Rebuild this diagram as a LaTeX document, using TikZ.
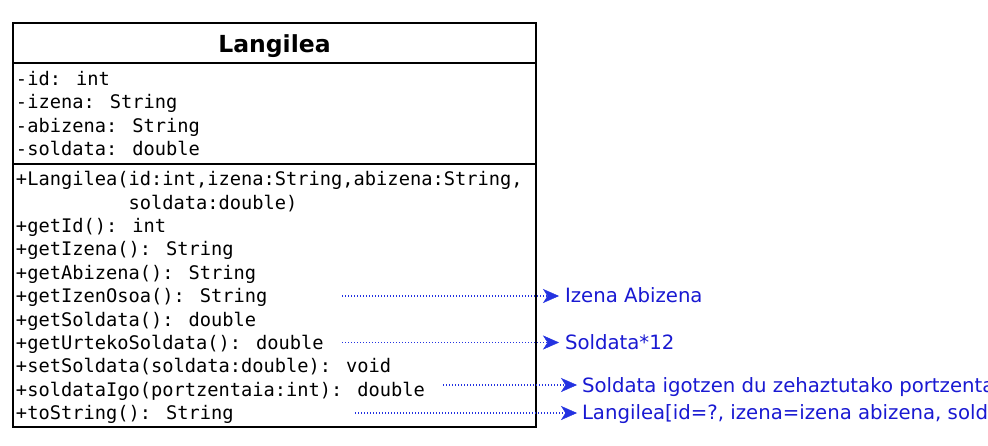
\documentclass[tikz,border=0pt]{standalone}
\usepackage{fontspec}
\setmainfont{DejaVu Sans}
\newfontfamily\monof{DejaVu Sans Mono}
\usetikzlibrary{arrows.meta}
\definecolor{arrowblue}{RGB}{35,50,225}
\definecolor{textblue}{RGB}{25,25,210}
\begin{document}
\begin{tikzpicture}[x=1pt,y=-1pt,
  part/.style={draw=black, line width=2pt, minimum width=523pt, inner sep=0pt, outer sep=0pt},
  titletext/.style={anchor=base, inner sep=0pt, font=\fontsize{23.5}{27}\selectfont\bfseries},
  mono/.style={anchor=base west, inner sep=0pt, outer sep=0pt, font=\monof\fontsize{18.7}{23.4}\selectfont},
  note/.style={anchor=base west, inner sep=0pt, outer sep=0pt, text=textblue, font=\fontsize{19.7}{22}\selectfont},
  conn/.style={draw=arrowblue, line width=1.4pt, dash pattern=on 1.3pt off 1.7pt, -{Stealth[length=16pt,width=14pt,inset=4.5pt,color=arrowblue,fill=arrowblue,line width=0.4pt]}}
]
\clip (0,0) rectangle (988,445);
\fill[white] (0,0) rectangle (988,445);
% class box
\node[part, minimum height=40pt] (title) at (274.5,43) {};
\node[part, minimum height=101pt] (attrs) at (274.5,113.5) {};
\node[part, minimum height=263pt] (meths) at (274.5,295.5) {};
\node[titletext] (tt) at (274.5,52) {Langilea};
% attributes
\node[mono] (a1) at (16,85.3) {-id: int};
\node[mono] (a2) at (16,108.8) {-izena: String};
\node[mono] (a3) at (16,132.3) {-abizena: String};
\node[mono] (a4) at (16,155.8) {-soldata: double};
% methods
\node[mono] (m1) at (16,185.6) {+Langilea(id:int,izena:String,abizena:String,};
\node[mono] (m2) at (16,209.0) {\phantom{+Langilea(}soldata:double)};
\node[mono] (m3) at (16,232.4) {+getId(): int};
\node[mono] (m4) at (16,255.8) {+getIzena(): String};
\node[mono] (m5) at (16,279.2) {+getAbizena(): String};
\node[mono] (m6) at (16,302.6) {+getIzenOsoa(): String};
\node[mono] (m7) at (16,326.0) {+getSoldata(): double};
\node[mono] (m8) at (16,349.4) {+getUrtekoSoldata(): double};
\node[mono] (m9) at (16,372.8) {+setSoldata(soldata:double): void};
\node[mono] (m10) at (16,396.2) {+soldataIgo(portzentaia:int): double};
\node[mono] (m11) at (16,419.6) {+toString(): String};
% notes
\node[note] (l1) at (565,302.6) {Izena Abizena};
\node[note] (l2) at (565,349.2) {Soldata*12};
\node[note] (l3) at (582,392.2) {Soldata igotzen du zehaztutako portzentaia};
\node[note] (l4) at (582,419.6) {Langilea[id=?, izena=izena abizena, soldata};
% connectors
\coordinate (s1) at (342,296);
\coordinate (s2) at (342,342.5);
\coordinate (s3) at (443,385);
\coordinate (s4) at (355,413);
\draw[conn, shorten >=6pt] (s1) -- (s1 -| l1.west);
\draw[conn, shorten >=6pt] (s2) -- (s2 -| l2.west);
\draw[conn, shorten >=5pt] (s3) -- (s3 -| l3.west);
\draw[conn, shorten >=5pt] (s4) -- (s4 -| l4.west);
\end{tikzpicture}
\end{document}
